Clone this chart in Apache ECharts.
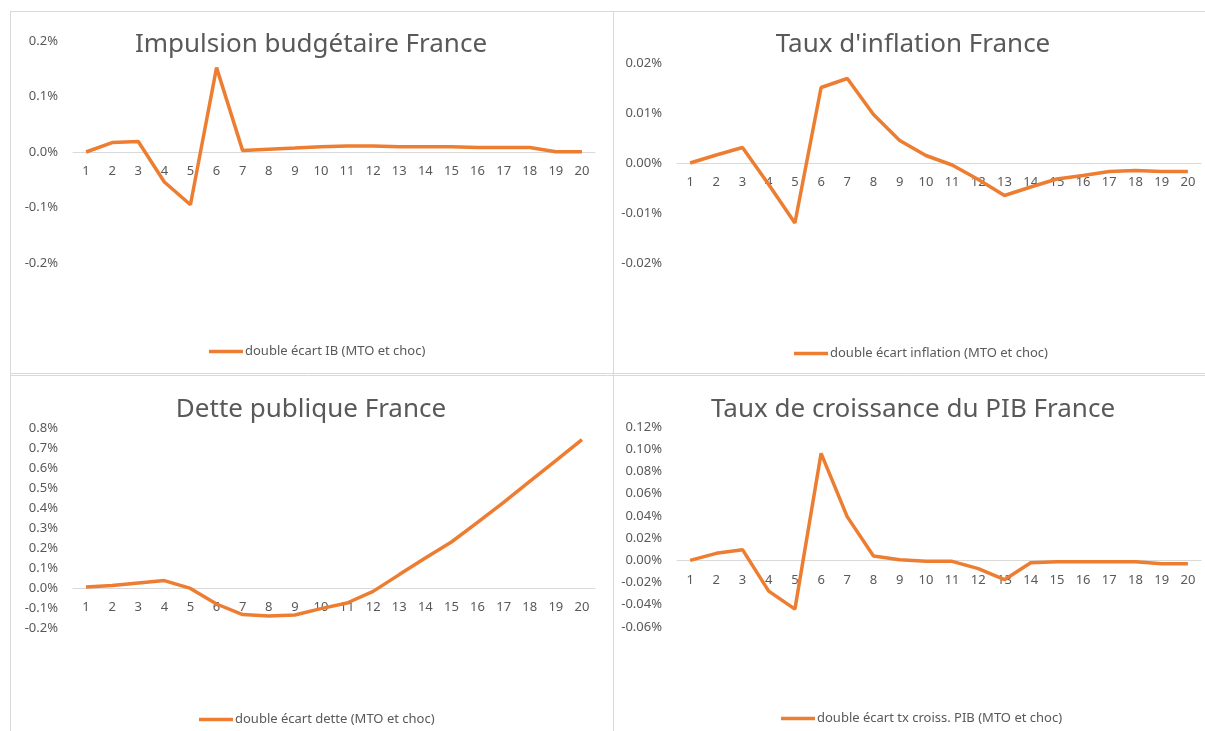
<!DOCTYPE html>
<html>
<head>
<meta charset="utf-8">
<title>Double écart MTO et choc - France</title>
<script src="https://cdn.jsdelivr.net/npm/echarts@6/dist/echarts.min.js"></script>
<style>
  html, body { margin: 0; padding: 0; background: #fff; }
  #main { width: 1205px; height: 731px; }
</style>
</head>
<body>
<div id="main"></div>
<script>
// périodes 1..20
const periodes = ["1","2","3","4","5","6","7","8","9","10","11","12","13","14","15","16","17","18","19","20"];

// valeurs en %
const impulsionIB = [0, 0.017, 0.019, -0.054, -0.095, 0.152, 0.0025, 0.005, 0.007, 0.0095, 0.011, 0.011, 0.0095, 0.0095, 0.0095, 0.008, 0.008, 0.008, 0.0005, 0.0005];
const inflation = [0, 0.0016, 0.0031, -0.0043, -0.012, 0.0151, 0.0169, 0.0097, 0.0045, 0.0015, -0.0004, -0.0033, -0.0065, -0.0048, -0.0032, -0.0025, -0.0017, -0.0015, -0.0017, -0.0017];
const dette = [0.005, 0.013, 0.025, 0.037, -0.002, -0.08, -0.133, -0.14, -0.135, -0.103, -0.075, -0.017, 0.067, 0.15, 0.23, 0.328, 0.428, 0.533, 0.637, 0.742];
const croissancePIB = [0, 0.0063, 0.0096, -0.0277, -0.0439, 0.0963, 0.0391, 0.0039, 0.0006, -0.0009, -0.0009, -0.0075, -0.0174, -0.0021, -0.0012, -0.0012, -0.0012, -0.0012, -0.003, -0.003];

const titres = ["Impulsion budgétaire France", "Taux d'inflation France", "Dette publique France", "Taux de croissance du PIB France"];
const legendes = ["double écart IB (MTO et choc)", "double écart inflation (MTO et choc)", "double écart dette (MTO et choc)", "double écart tx croiss. PIB (MTO et choc)"];

const orange = "#ED7D31";
const gris = "#595959";
const trait = "#d9d9d9";
const police = "'Noto Sans', sans-serif";

let myChart = echarts.init(document.getElementById("main"));

// une grille par panneau
const grids = [
  { left: 73, top: 41, width: 522, height: 222 },
  { left: 677, top: 63, width: 524, height: 200 },
  { left: 73, top: 428, width: 522, height: 200 },
  { left: 677, top: 427, width: 524, height: 200 }
];
const axesY = [
  { min: -0.2, max: 0.2, interval: 0.1, dec: 1 },
  { min: -0.02, max: 0.02, interval: 0.01, dec: 2 },
  { min: -0.2, max: 0.8, interval: 0.1, dec: 1 },
  { min: -0.06, max: 0.12, interval: 0.02, dec: 2 }
];
const donnees = [impulsionIB, inflation, dette, croissancePIB];

let xAxis = [], yAxis = [], series = [], legend = [];
const legendPos = [
  { left: 204, top: 340 },
  { left: 789, top: 342 },
  { left: 194, top: 708 },
  { left: 776, top: 707 }
];

for (let i = 0; i < 4; i++) {
  // l'axe des x (ligne + étiquettes) remonte jusqu'au zéro
  let a = axesY[i];
  let decal = -grids[i].height * (0 - a.min) / (a.max - a.min);
  xAxis.push({
    type: "category",
    gridIndex: i,
    data: periodes,
    boundaryGap: true,
    offset: decal,
    axisLine: { onZero: false, lineStyle: { color: trait, width: 1 } },
    axisTick: { show: false },
    axisLabel: { color: gris, fontSize: 13, fontFamily: police, margin: 13, interval: 0 }
  });
  yAxis.push({
    type: "value",
    gridIndex: i,
    min: a.min,
    max: a.max,
    interval: a.interval,
    axisLine: { show: false },
    axisTick: { show: false },
    splitLine: { show: false },
    axisLabel: {
      color: gris,
      fontSize: 13,
      fontFamily: police,
      margin: 15,
      formatter: (v => (Math.abs(v) < 1e-9 ? 0 : v).toFixed(a.dec) + "%")
    }
  });
  series.push({
    name: legendes[i],
    type: "line",
    xAxisIndex: i,
    yAxisIndex: i,
    data: donnees[i],
    symbol: "none",
    lineStyle: { color: orange, width: 3.5 },
    itemStyle: { color: orange }
  });
  legend.push({
    data: [legendes[i]],
    left: legendPos[i].left,
    top: legendPos[i].top,
    icon: "rect",
    itemWidth: 34,
    itemHeight: 3.5,
    itemGap: 4,
    textStyle: { color: gris, fontSize: 13, fontFamily: police, padding: [0, 0, 0, -3] }
  });
}

// titres et cadres
const titrePos = [[311, 45], [913, 45], [311, 410], [913, 410]];
let graphic = titres.map((t, i) => ({
  type: "text",
  x: titrePos[i][0],
  y: titrePos[i][1],
  style: {
    text: t,
    fill: gris,
    font: "26px " + police,
    textAlign: "center",
    textVerticalAlign: "middle"
  }
}));
const lignes = [
  [10.5, 11, 10.5, 731],
  [10, 11.5, 1205, 11.5],
  [613.5, 11, 613.5, 731],
  [10, 373.5, 1205, 373.5],
  [10, 375.5, 1205, 375.5]
];
lignes.forEach(l => graphic.push({
  type: "line",
  shape: { x1: l[0], y1: l[1], x2: l[2], y2: l[3] },
  style: { stroke: trait, lineWidth: 1 },
  silent: true
}));

let option = {
  animation: false,
  grid: grids,
  xAxis: xAxis,
  yAxis: yAxis,
  legend: legend,
  graphic: graphic,
  series: series
};

myChart.setOption(option);
</script>
</body>
</html>
